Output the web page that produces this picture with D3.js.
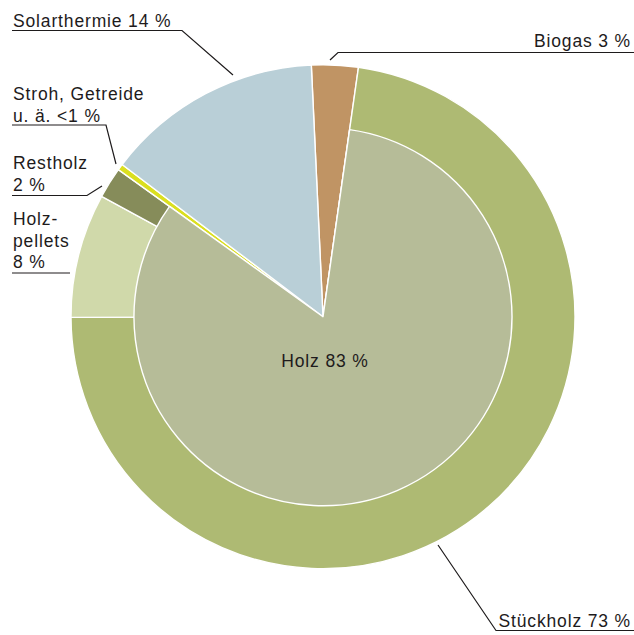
<!DOCTYPE html>
<html>
<head>
<meta charset="utf-8">
<script src="https://cdn.jsdelivr.net/npm/d3@7"></script>
<style>
  html, body { margin: 0; padding: 0; background: #fff; }
  svg { display: block; }
  text { font-family: "Liberation Sans", Arial, sans-serif; font-size: 17.5px; letter-spacing: 0.85px; fill: #1e1b1c; }
</style>
</head>
<body>
<svg id="chart" width="634" height="635"></svg>
<script>
// Outer ring: individual energy sources (share in %)
const categories = ["Biogas", "Stückholz", "Holzpellets", "Restholz", "Stroh, Getreide u. ä.", "Solarthermie"];
const shares = [3, 73, 8, 2, 0.4, 14];
const colors = ["#c09464", "#aeba73", "#d0d9aa", "#868c5a", "#dbdf1f", "#b9cfd7"];

// Inner disc: the three wood sources grouped as "Holz"
const innerCategories = ["Biogas", "Holz", "Stroh, Getreide u. ä.", "Solarthermie"];
const innerShares = [3, 83, 0.4, 14];
const innerLabel = "Holz 83 %";

const svg = d3.select("#chart");
const cx = 323, cy = 316.7;
const outerR = 252, innerR = 189;
const startAngle = -2.66 * Math.PI / 180;

const g = svg.append("g").attr("transform", `translate(${cx},${cy})`);

const pie = d3.pie().sort(null).value(d => d.v)
  .startAngle(startAngle).endAngle(startAngle + 2 * Math.PI);

const outerData = pie(categories.map((c, i) => ({ c, v: shares[i], col: colors[i] })));
const arcOuter = d3.arc().innerRadius(0).outerRadius(outerR);

g.selectAll("path.outer").data(outerData).join("path")
  .attr("class", "outer")
  .attr("d", arcOuter)
  .attr("fill", d => d.data.col)
  .attr("stroke", "#fff")
  .attr("stroke-width", 1.4)
  .attr("stroke-linejoin", "round");

const innerData = pie(innerCategories.map((c, i) => ({ c, v: innerShares[i] })))
  .filter(d => d.data.c === "Holz");
const arcInner = d3.arc().innerRadius(0).outerRadius(innerR);

g.selectAll("path.inner").data(innerData).join("path")
  .attr("class", "inner")
  .attr("d", arcInner)
  .attr("fill", "#b6bc98")
  .attr("stroke", "#fff")
  .attr("stroke-width", 1.4)
  .attr("stroke-linejoin", "round");

g.append("text")
  .attr("x", 2).attr("y", 50.5)
  .attr("text-anchor", "middle")
  .text(innerLabel);

// Callout labels with underline and leader line
const callouts = [
  { lines: ["Solarthermie 14 %"], x: 13, y: 27, anchor: "start",
    path: [[12, 30.5], [182, 30.5], [233, 75]] },
  { lines: ["Biogas 3 %"], x: 631, y: 47, anchor: "end",
    path: [[634, 52.5], [338, 52.5], [330, 60]] },
  { lines: ["Stroh, Getreide", "u. ä. <1 %"], x: 13, y: 100, anchor: "start",
    path: [[12, 125], [106, 125], [116, 164]] },
  { lines: ["Restholz", "2 %"], x: 13, y: 169, anchor: "start",
    path: [[12, 195.5], [87, 195.5], [102, 186]] },
  { lines: ["Holz-", "pellets", "8 %"], x: 13, y: 225, anchor: "start",
    path: [[12, 273], [70, 273]] },
  { lines: ["Stückholz 73 %"], x: 631, y: 627, anchor: "end",
    path: [[634, 630.5], [496, 630.5], [438, 545]] }
];

const lineGap = 21.5;
const line = d3.line();

callouts.forEach(c => {
  const t = svg.append("text")
    .attr("text-anchor", c.anchor);
  c.lines.forEach((s, i) => {
    t.append("tspan").attr("x", c.x).attr("y", c.y + i * lineGap).text(s);
  });
  svg.append("path")
    .attr("d", line(c.path))
    .attr("fill", "none")
    .attr("stroke", "#1e1b1c")
    .attr("stroke-width", 1.2);
});
</script>
</body>
</html>
